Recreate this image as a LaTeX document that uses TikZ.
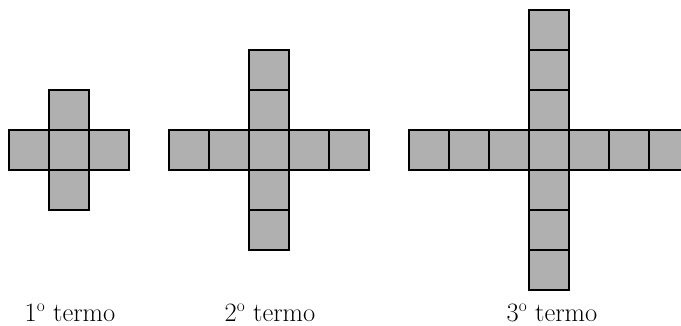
\documentclass[tikz,border=0pt]{standalone}
\begin{document}
\begin{tikzpicture}[x=1pt,y=-1pt,
  cell/.style={draw=black, fill=cellgray, line width=1.7pt, line join=miter},
  termlabel/.style={anchor=base, inner sep=0pt, font=\fontsize{26.5}{30}\selectfont}]
\definecolor{cellgray}{RGB}{176,176,176}
\useasboundingbox (0,0) rectangle (681,326);
\begin{scope}
\clip (0,0) rectangle (681,326);
\foreach \cx/\n in {49/1, 249/2, 529/3} {
  \foreach \i in {-\n,...,\n} {
    \path[cell] (\cx+40*\i,130) rectangle ++(40,40);
  }
  \foreach \i in {-\n,...,\n} {
    \path[cell] (\cx,130+40*\i) rectangle ++(40,40);
  }
}
\end{scope}
\node[termlabel] (t1) at (70,321) {1$^{\rm o}$ termo};
\node[termlabel] (t2) at (270,321) {2$^{\rm o}$ termo};
\node[termlabel] (t3) at (552,321) {3$^{\rm o}$ termo};
\end{tikzpicture}
\end{document}
